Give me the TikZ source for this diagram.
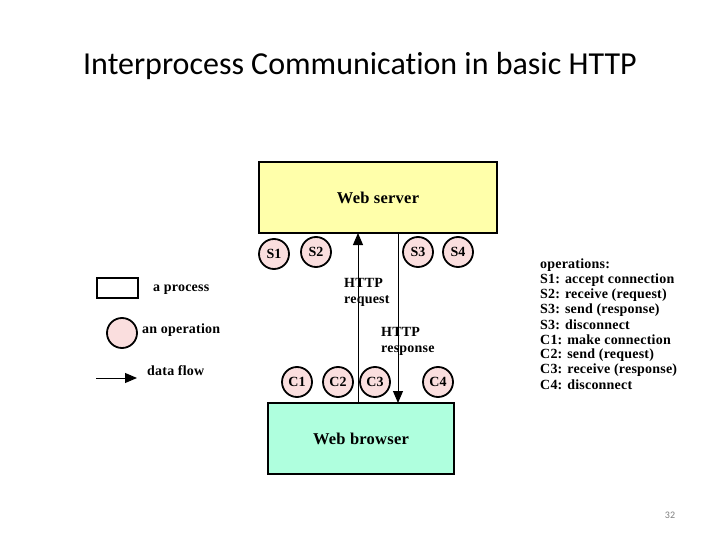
\documentclass[tikz,border=0pt]{standalone}
\usepackage{fontspec}
\setmainfont{Liberation Serif}
\newfontfamily\titlefont{Carlito}[Ligatures=NoCommon]
\newfontfamily\dfont{Liberation Serif}[LetterSpace=1.5]
\usetikzlibrary{arrows.meta,calc}
\definecolor{srvyellow}{RGB}{255,255,170}
\definecolor{brwmint}{RGB}{175,255,222}
\definecolor{oppink}{RGB}{250,222,222}
\tikzset{
  procbox/.style={draw, line width=1.2pt, inner sep=0pt, outer sep=0pt, anchor=north west,
    font=\dfont\bfseries\fontsize{16.5}{18}\selectfont},
  opcirc/.style={circle, draw, line width=1.8pt, fill=oppink, minimum size=30pt, inner sep=0pt,
    font=\dfont\bfseries\fontsize{14}{14}\selectfont},
  flow/.style={line width=1pt, -{Triangle[length=12pt,width=10pt]}},
  lbl/.style={font=\dfont\bfseries\fontsize{14}{16}\selectfont, inner sep=0pt, align=left},
  opline/.style={font=\dfont\bfseries\fontsize{14}{14}\selectfont, inner sep=0pt, anchor=west}
}
\begin{document}
\begin{tikzpicture}[x=1pt,y=-1pt]
\useasboundingbox[fill=white] (0,0) rectangle (720,540);
% title
\node[font=\titlefont\fontsize{32}{36}\selectfont, inner sep=0pt, anchor=base] (title) at (360,74.5) {Interprocess Communication in basic HTTP};
% processes
\node[procbox, fill=srvyellow, minimum width=238pt, minimum height=71pt] (server) at (259,162) {Web server};
\node[procbox, fill=brwmint, minimum width=186pt, minimum height=71pt] (browser) at (268,403) {Web browser};
% operations
\node[opcirc] (s1) at (274,254) {S1};
\node[opcirc] (s2) at (316,252) {S2};
\node[opcirc] (s3) at (418,252) {S3};
\node[opcirc] (s4) at (458,252) {S4};
\node[opcirc] (c1) at (297,382) {C1};
\node[opcirc] (c2) at (338,382) {C2};
\node[opcirc] (c3) at (375,382) {C3};
\node[opcirc] (c4) at (438,382) {C4};
% data flows
\coordinate (upx) at (358,0);
\coordinate (downx) at (398,0);
\draw[flow] (upx |- browser.north) -- (upx |- server.south);
\draw[flow] (downx |- server.south) -- (downx |- browser.north);
\node[lbl, anchor=west] (req) at (344,292) {HTTP\\request};
\node[lbl, anchor=west] (resp) at (381,341) {HTTP\\response};
% legend
\node[draw, line width=1.8pt, minimum width=41pt, minimum height=20pt, inner sep=0pt, anchor=north west] (lgbox) at (96,277) {};
\node[lbl, anchor=west] (lgproc) at (153,290) {a process};
\node[opcirc] (lgop) at (122,333) {};
\node[lbl, anchor=west] (lgoptxt) at (142,330) {an operation};
\coordinate (lga) at (96,378);
\coordinate (lgb) at (137,378);
\draw[flow] (lga) -- (lgb);
\node[lbl, anchor=west] (lgflow) at (147,371) {data flow};
% operations list
\foreach \t [count=\i] in {operations:, S1: accept connection, S2: receive (request), S3: send (response), S3: disconnect, C1: make connection, C2: send (request), C3: receive (response), C4: disconnect}{
  \node[opline] (ops\i) at (540,{265+15*(\i-1)}) {\t};
}
% page number
\node[font=\titlefont\fontsize{10}{11}\selectfont, text=gray, inner sep=0pt] (pnum) at (670,515) {32};
\end{tikzpicture}
\end{document}
